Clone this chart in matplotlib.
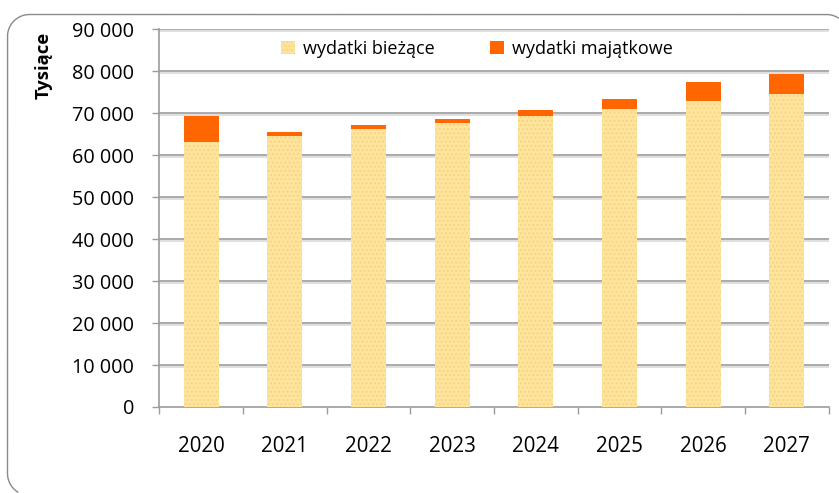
import matplotlib
matplotlib.use("Agg")
import matplotlib.pyplot as plt
from matplotlib.patches import Patch
from matplotlib.lines import Line2D
from matplotlib.transforms import IdentityTransform
import matplotlib.patheffects as pe
import numpy as np

years = ["2020", "2021", "2022", "2023", "2024", "2025", "2026", "2027"]
biezace = [63200, 64650, 66200, 67750, 69350, 71100, 72800, 74500]
majatkowe = [6050, 850, 950, 950, 1450, 2200, 4600, 4800]
yticks = [0, 10000, 20000, 30000, 40000, 50000, 60000, 70000, 80000, 90000]
ytick_labels = ["0", "10 000", "20 000", "30 000", "40 000", "50 000",
                "60 000", "70 000", "80 000", "90 000"]

plt.rcParams['font.family'] = ['Open Sans', 'DejaVu Sans']

W, H = 839, 493
fig = plt.figure(figsize=(W / 100, H / 100), dpi=100)
fig.patch.set_facecolor("white")

# outer rounded frame as a path in pixel coords (display y from bottom);
# the parts that fall outside the picture are not drawn.
def rounded_frame(x0, y0, x1, y1, r, n=40):
    def arc(cx, cy, a0, a1):
        t = np.linspace(np.radians(a0), np.radians(a1), n)
        return cx + r * np.cos(t), cy + r * np.sin(t)
    xs, ys = [], []
    pieces = [arc(x0 + r, y0 + r, 270, 180),
              arc(x0 + r, y1 - r, 180, 90),
              arc(x1 - r, y1 - r, 90, 0),
              arc(x1 - r, y0 + r, 0, -90)]
    for px, py in pieces:
        xs.extend(px); ys.extend(py)
    xs, ys = np.array(xs), np.array(ys)
    out = (xs > W - 0.6) | (ys < 0.6)
    xs = np.where(out, np.nan, xs)
    ys = np.where(out, np.nan, ys)
    return xs, ys

fx, fy = rounded_frame(7.5, -2.5, 848.5, H - 14.5, 22)
fig.add_artist(Line2D(fx, fy, color="#8a8a8a", linewidth=1.0,
                      transform=IdentityTransform(), zorder=-5))

left, right = 159.3 / W, 828.7 / W
bottom, top = 1 - 407 / H, 1 - 29.3 / H
ax = fig.add_axes([left, bottom, right - left, top - bottom])
ax.set_facecolor("none")

x = np.arange(len(years))
bw = 0.42
yellow = "#FFE49C"
orange = "#FF6600"

ax.bar(x, biezace, bw, color=yellow, linewidth=0, zorder=3)
ax.bar(x, biezace, bw, facecolor="none", edgecolor="#F6D487", hatch="....",
       linewidth=0, zorder=3.1)
ax.bar(x, majatkowe, bw, bottom=biezace, color=orange, linewidth=0, zorder=3)

ax.set_xlim(-0.5, len(years) - 0.5)
ax.set_ylim(0, 90000)
ax.set_yticks(yticks)
ax.set_yticklabels(ytick_labels)
ax.set_xticks(np.arange(len(years) + 1) - 0.5)
ax.set_xticklabels([])
ax.set_xticks(x, minor=True)
ax.set_xticklabels(years, minor=True)

for v in yticks[1:]:
    ax.axhline(v, color="#9c9c9c", linewidth=1.2, zorder=1,
               path_effects=[pe.SimpleLineShadow(offset=(0, -1.3), shadow_color="#d9d9d9", alpha=1),
                             pe.Normal()])

for s in ["top", "right"]:
    ax.spines[s].set_visible(False)
for s in ["left", "bottom"]:
    ax.spines[s].set_color("#9c9c9c")
    ax.spines[s].set_linewidth(1.2)

ax.tick_params(axis="y", direction="out", length=5, width=1, color="#9c9c9c",
               labelsize=14.3, pad=13, labelcolor="black")
ax.tick_params(axis="x", which="major", direction="out", length=5, width=1,
               color="#9c9c9c")
ax.tick_params(axis="x", which="minor", length=0, labelsize=14.8, pad=21,
               labelcolor="black")

fig.text(44 / W, 1 - 65.5 / H, "Tysiące", rotation=90, fontsize=13.2,
         fontweight="bold", ha="center", va="center")

handles = [Patch(facecolor=yellow, edgecolor="#F6D487", hatch="....", linewidth=0,
                 label="wydatki bieżące"),
           Patch(facecolor=orange, linewidth=0, label="wydatki majątkowe")]
fig.legend(handles=handles, loc="center", bbox_to_anchor=(477 / W, 1 - 49 / H),
           ncol=2, frameon=False, fontsize=13, handlelength=0.75,
           handleheight=0.7, handletextpad=0.45, columnspacing=3.1)

fig.savefig("out.png", dpi=100)
